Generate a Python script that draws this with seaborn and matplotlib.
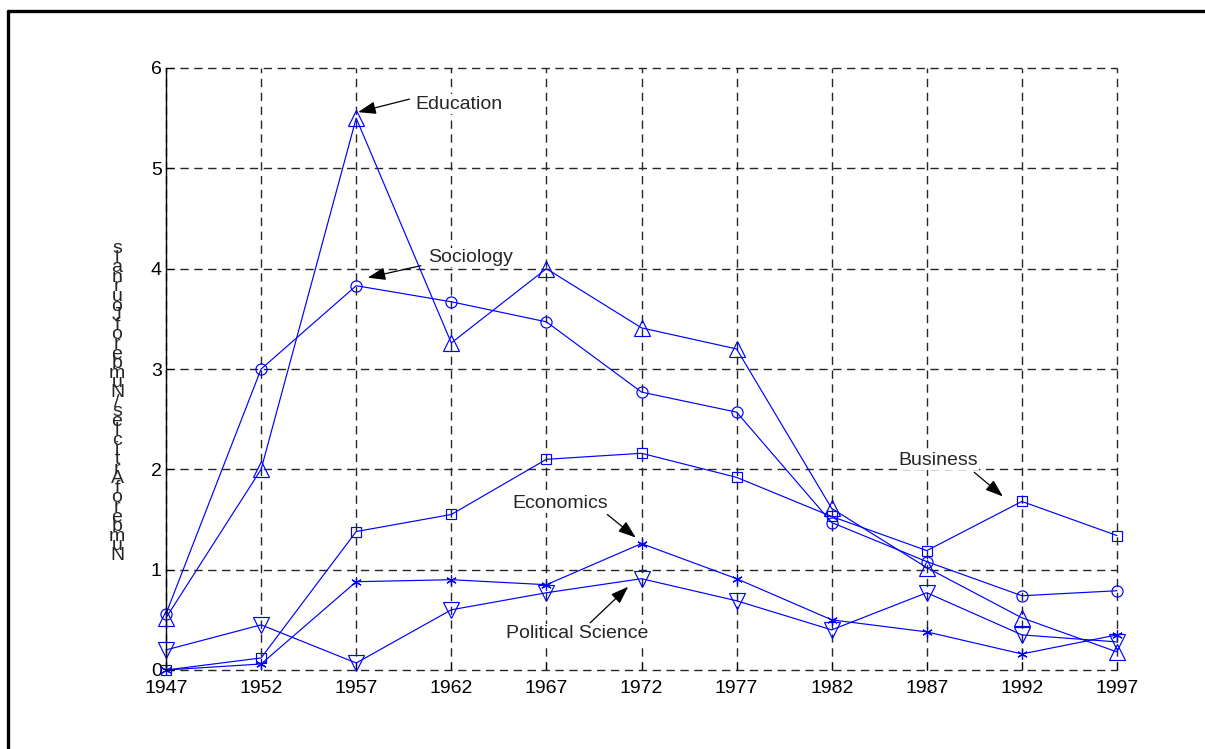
import matplotlib
matplotlib.use("Agg")
from matplotlib import pyplot as plt
from matplotlib.lines import Line2D
import pandas as pd
import seaborn as sns

# data
years = [1947, 1952, 1957, 1962, 1967, 1972, 1977, 1982, 1987, 1992, 1997]
education = [0.52, 2.0, 5.5, 3.26, 4.0, 3.41, 3.2, 1.61, 1.02, 0.52, 0.18]
sociology = [0.56, 3.0, 3.83, 3.67, 3.47, 2.77, 2.57, 1.47, 1.08, 0.74, 0.79]
business = [0.0, 0.12, 1.38, 1.55, 2.1, 2.16, 1.92, 1.53, 1.19, 1.68, 1.34]
economics = [0.0, 0.06, 0.88, 0.9, 0.85, 1.26, 0.91, 0.5, 0.38, 0.16, 0.35]
polsci = [0.2, 0.45, 0.07, 0.6, 0.77, 0.91, 0.69, 0.4, 0.77, 0.35, 0.28]
ylabel_txt = "Number of Articles/Number of Journals"

sns.set_style("white")
plt.rcParams['font.family'] = ['Liberation Sans', 'DejaVu Sans']
plt.rcParams['lines.scale_dashes'] = False

fig = plt.figure(figsize=(12.05, 7.49), dpi=100)
ax = fig.add_axes([166/1205, 1-670/749, (1117-166)/1205, (670-68)/749])

series = [
    (education, '^', 11),
    (sociology, 'o', 8),
    (business, 's', 7.5),
    (economics, (6, 2, 0), 7.5),
    (polsci, 'v', 11),
]
for vals, mk, ms in series:
    df = pd.DataFrame({"year": years, "val": vals})
    sns.lineplot(data=df, x="year", y="val", ax=ax, color='blue', linewidth=0.85,
                 marker=mk, markersize=ms, markerfacecolor='none',
                 markeredgecolor='blue', markeredgewidth=0.85, clip_on=False)

ax.set_xlim(1947, 1997)
ax.set_ylim(0, 6)
ax.set_xticks(years)
ax.set_yticks(range(0, 7))
ax.set_xlabel("")
ax.set_ylabel("")
ax.grid(True, color='0.15', linestyle=(0, (6, 4)), linewidth=1.0)
for gl in ax.get_xgridlines() + ax.get_ygridlines():
    gl.set_clip_on(False)
for s in ['top', 'right', 'bottom']:
    ax.spines[s].set_visible(False)
ax.spines['left'].set_color('black')
ax.spines['left'].set_linewidth(1.0)
ax.tick_params(direction='in', length=6, width=0.8, labelsize=14, colors='black',
               left=True, bottom=True, pad=3)
ax.tick_params(axis='x', pad=7)

# annotations
arrow = dict(arrowstyle='-|>,head_length=0.9,head_width=0.32', color='black',
             lw=0.9, shrinkA=0, shrinkB=0, mutation_scale=12)
notes = [
    ("Education", (1960.1, 5.64), (1957.1, 5.56), (1959.8, 5.69)),
    ("Sociology", (1960.8, 4.11), (1957.6, 3.91), (1960.4, 4.03)),
    ("Business", (1985.5, 2.09), (1991.0, 1.73), (1989.5, 1.97)),
    ("Economics", (1965.2, 1.66), (1971.7, 1.32), (1970.2, 1.55)),
    ("Political Science", (1964.9, 0.36), (1971.3, 0.83), (1969.3, 0.47)),
]
for label, tpos, tip, tail in notes:
    ax.text(tpos[0], tpos[1], label, fontsize=14, ha='left', va='center',
            bbox=dict(facecolor='white', edgecolor='none', pad=1), zorder=5)
    ax.annotate('', xy=tip, xytext=tail, arrowprops=arrow, zorder=6)

# y label as in the original: upright glyphs stacked bottom to top
stacked = "\n".join(reversed(ylabel_txt.replace(" ", "")))
fig.text(117/1205, 1-402/749, stacked, fontsize=14, ha='center', va='center',
         multialignment='center', linespacing=0.43)

# outer frame (left and top edges)
fig.add_artist(Line2D([8/1205, 8/1205], [0, 1-11/749], color='black', lw=2.4))
fig.add_artist(Line2D([8/1205, 1], [1-11/749, 1-11/749], color='black', lw=2.4))

fig.savefig("out.png", dpi=100)
